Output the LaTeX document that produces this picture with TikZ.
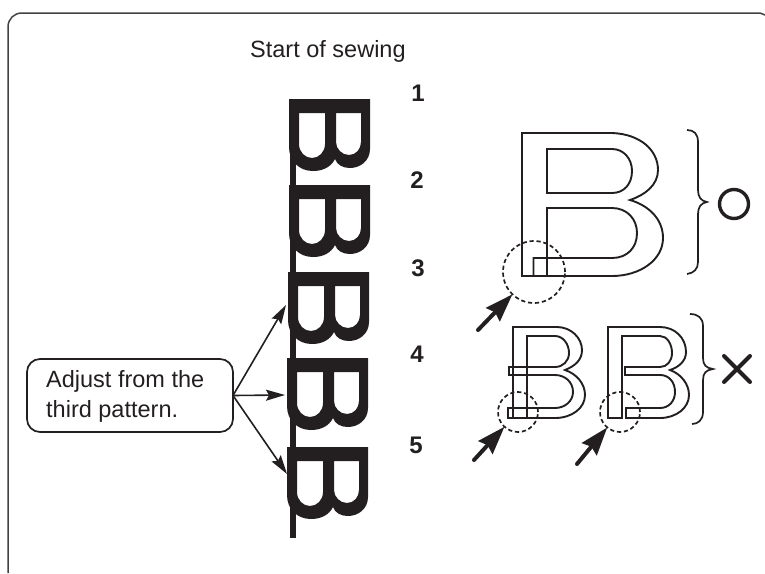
\documentclass[tikz,border=0pt]{standalone}
\usepackage{fontspec}
\setmainfont{Liberation Sans}
\usetikzlibrary{arrows.meta}
\definecolor{ink}{HTML}{231F20}
\tikzset{
  frameline/.style={draw=ink!85,line width=1.5pt},
  outline/.style={draw=ink,line width=1.9pt,line join=miter},
  bracepath/.style={draw=ink,line width=1.7pt},
  thinarrow/.style={draw=ink,line width=1.6pt,-{Stealth[length=19pt,width=11pt,inset=3pt]}},
  fatarrow/.style={draw=ink,line width=4pt,line cap=round,-{Stealth[length=28pt,width=19pt,inset=3pt]}},
  zone/.style={circle,draw=ink,line width=1.7pt,dash pattern=on 4.2pt off 2.8pt,inner sep=0pt,outer sep=0pt},
  body/.style={font=\fontsize{23.5pt}{30pt}\selectfont,text=ink,inner sep=0pt,anchor=base west},
  num/.style={font=\fontsize{24pt}{26pt}\selectfont\bfseries,text=ink,inner sep=0pt,anchor=base},
  callout/.style={draw=ink,line width=1.7pt,rounded corners=13pt,inner sep=0pt,outer sep=0pt,minimum width=206pt,minimum height=73pt},
}
\newcommand{\blackB}[2]{%
  \fill[ink,even odd rule,shift={(#1,#2)}]
    (0,0) -- (81,0) -- (81,50) .. controls (81,62) and (71,69) .. (61,69)
    .. controls (54,69) and (48,66) .. (46,60)
    .. controls (42,68) and (34,72) .. (24,72)
    .. controls (10,72) and (0,62) .. (0,48) -- cycle
    (10,14) -- (36,14) -- (36,45) .. controls (36,53) and (30,59) .. (23,59)
    .. controls (16,59) and (10,53) .. (10,45) -- cycle
    (47,14) -- (72,14) -- (72,43) .. controls (72,50) and (67,56) .. (60,56)
    .. controls (53,56) and (47,50) .. (47,43) -- cycle;}
\begin{document}
\begin{tikzpicture}[x=1pt,y=-1pt]
\useasboundingbox (0,0) rectangle (765,573);
% frame
\draw[frameline] (8,573) -- (8,27) .. controls (8,19) and (14,13) .. (22,13) -- (760,13) -- (765,15);
% texts
\node[body] (title) at (250,57) {Start of sewing};
\node[num] (n1) at (418,101) {1};
\node[num] (n2) at (417,188) {2};
\node[num] (n3) at (418,276) {3};
\node[num] (n4) at (417,362) {4};
\node[num] (n5) at (416,453) {5};
% stack of black patterns
\fill[ink] (290,99) rectangle (296,538);
\blackB{289}{99}
\blackB{289}{185}
\blackB{288}{272}
\blackB{287}{358}
\blackB{287}{447}
% callout
\node[callout] (note) at (130,395.5) {};
\node[body] (l1) at (46,387) {Adjust from the};
\node[body] (l2) at (46,417) {third pattern.};
\coordinate (tipA) at (286,305);
\coordinate (tipB) at (285,395);
\coordinate (tipC) at (287,474);
\draw[thinarrow] (note.east) -- (tipA);
\draw[thinarrow] (note.east) -- (tipB);
\draw[thinarrow] (note.east) -- (tipC);
% correct pattern
\draw[outline] (547,276) -- (522,276) -- (522,133) -- (612,133)
  .. controls (640,134) and (658,150) .. (658,170)
  .. controls (658,185) and (645,195) .. (630,200)
  .. controls (650,206) and (663,220) .. (663,238)
  .. controls (663,260) and (640,276) .. (612,276) -- (533,276);
\draw[outline] (547,149) -- (612,149) .. controls (624,149) and (632,159) .. (632,171)
  .. controls (632,184) and (624,193) .. (612,193) -- (547,193) -- cycle;
\draw[outline] (547,276) -- (547,208) -- (612,208) .. controls (627,208) and (637,219) .. (637,233)
  .. controls (637,248) and (627,258) .. (612,258) -- (533.5,258) -- (533.5,276);
% wrong pattern 1
\draw[outline] (513,418) -- (513,327) -- (557,327)
  .. controls (571,327) and (582,338) .. (582,350)
  .. controls (582,360) and (575,366) .. (565,370)
  .. controls (577,374) and (585,384) .. (585,395)
  .. controls (585,408) and (572,418) .. (555,418) -- (508,418) -- (508,408) -- (555,408)
  .. controls (565,408) and (573,401) .. (573,392)
  .. controls (573,382) and (565,375) .. (555,375) -- (509,375) -- (509,367) -- (555,367)
  .. controls (563,367) and (569,361) .. (569,353)
  .. controls (569,344) and (563,336) .. (555,336) -- (527,336) -- (527,418);
% wrong pattern 2
\draw[outline] (622,336) -- (622,418) -- (608,418) -- (608,327) -- (660,327)
  .. controls (675,327) and (686,338) .. (686,352)
  .. controls (686,361) and (679,367) .. (670,370)
  .. controls (681,374) and (689,384) .. (689,395)
  .. controls (689,408) and (676,418) .. (660,418) -- (626,418) -- (626,408) -- (660,408)
  .. controls (669,408) and (675,401) .. (675,392)
  .. controls (675,382) and (669,375) .. (660,375) -- (625,375) -- (625,367) -- (660,367)
  .. controls (667,367) and (672,361) .. (672,353)
  .. controls (672,344) and (667,336) .. (660,336) -- cycle;
% dashed zones and arrows
\node[zone,minimum size=62pt] (z1) at (534,272) {};
\node[zone,minimum size=40pt] (z2) at (518,412) {};
\node[zone,minimum size=40pt] (z3) at (620,412) {};
\coordinate (a1) at (478,330);
\coordinate (a2) at (474,460);
\coordinate (a3) at (577,464);
\draw[fatarrow] (a1) -- (z1);
\draw[fatarrow] (a2) -- (z2);
\draw[fatarrow] (a3) -- (z3);
% braces
\draw[bracepath] (687,130) .. controls (694,130) and (698,134) .. (698,142) -- (698,190)
  .. controls (698,197) and (701,201) .. (707,202)
  .. controls (701,203) and (698,207) .. (698,214) -- (698,262)
  .. controls (698,269) and (694,273) .. (687,274);
\draw[bracepath] (690,314) .. controls (698,314) and (703,318) .. (703,326) -- (703,358)
  .. controls (703,365) and (706,368) .. (713,369)
  .. controls (706,370) and (703,373) .. (703,380) -- (703,412)
  .. controls (703,420) and (698,424) .. (692,424);
% marks
\draw[ink,line width=3.4pt] (734,204) circle (14.5);
\draw[ink,line width=4pt,line cap=round] (724,356) -- (750,382) (750,356) -- (724,382);
\end{tikzpicture}
\end{document}
